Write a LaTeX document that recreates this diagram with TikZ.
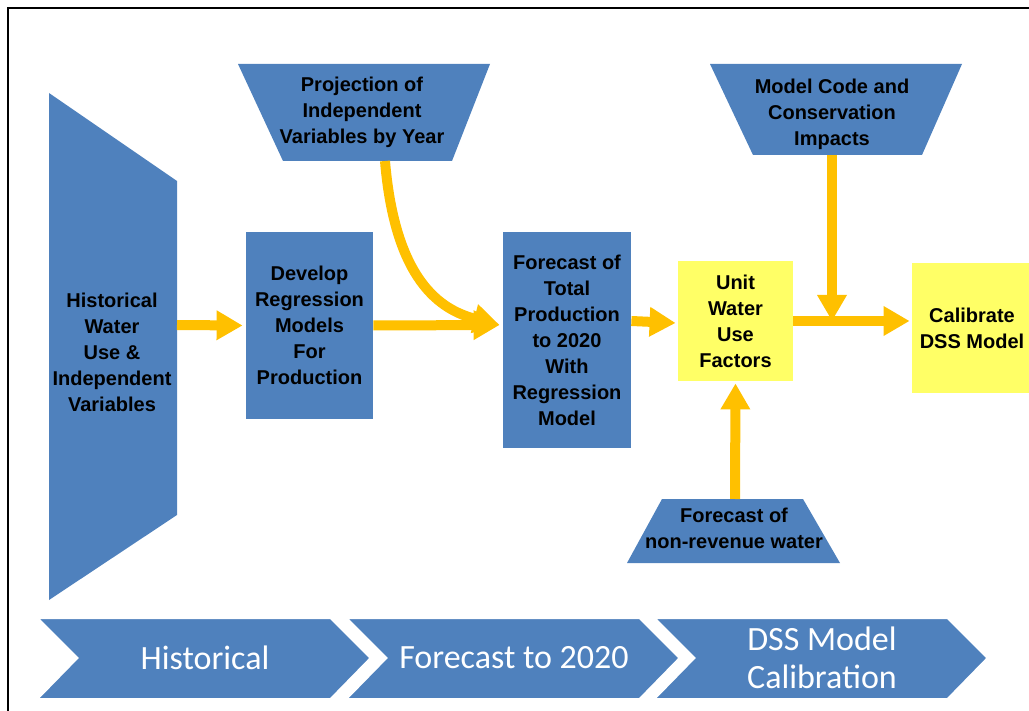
\documentclass[tikz,border=0pt]{standalone}
\usepackage{fontspec}
\setmainfont{Liberation Sans}
\newfontfamily\calibri{Carlito}
\usetikzlibrary{arrows.meta,positioning,calc}
\definecolor{FlowBlue}{HTML}{4F81BD}
\definecolor{FlowOrange}{HTML}{FFC000}
\definecolor{FlowYellow}{HTML}{FFFF66}

\begin{document}
\begin{tikzpicture}[x=0.5pt, y=-0.5pt,
  lbl/.style={font=\bfseries\fontsize{10}{13}\selectfont, align=center, text=black},
  bluebox/.style={lbl, fill=FlowBlue, inner sep=0pt},
  yellowbox/.style={lbl, fill=FlowYellow, inner sep=0pt},
  flow/.style={line width=5pt, FlowOrange, -{Triangle[width=14pt,length=13pt]}},
  phase/.style={fill=FlowBlue, draw=white, line width=2pt}]
\path[use as bounding box, clip] (0,0) rectangle (1029,711);

% Frame
\draw[line width=1pt] (8,711) -- (8,8) -- (1029,8);

% Input shapes
\fill[FlowBlue] (49,93) -- (177,181) -- (177,515) -- (49,600) -- cycle;
\node[lbl] (hist) at (112,352) {Historical\\Water\\Use \&\\Independent\\Variables};
\coordinate (hist-e) at (177,325);

\fill[FlowBlue] (238,64) -- (490,64) -- (452,161) -- (283,161) -- cycle;
\node[lbl] (proj) at (362,112) {Projection of\\Independent\\Variables by Year};
\coordinate (proj-s) at (385,161);

\fill[FlowBlue] (710,64) -- (962,64) -- (922,155) -- (753,155) -- cycle;
\node[lbl] (code) at (832,114) {Model Code and\\Conservation\\Impacts};
\coordinate (code-s) at (832,155);

\fill[FlowBlue] (662,499) -- (803,499) -- (840,563) -- (627,563) -- cycle;
\node[lbl] (nrw) at (734,528) {Forecast of\\non-revenue water};
\coordinate (nrw-n) at (735,499);

% Process boxes
\node[bluebox, minimum width=63.5pt, minimum height=93.5pt] (dev) at (309.5,325.5)
  {Develop\\Regression\\Models\\For\\Production};
\node[bluebox, minimum width=64pt, minimum height=108pt] (fcst) at (567,340)
  {Forecast of\\Total\\Production\\to 2020\\With\\Regression\\Model};
\node[yellowbox, minimum width=57.5pt, minimum height=60pt] (unit) at (735.5,321)
  {Unit\\Water\\Use\\Factors};
\node[yellowbox, minimum width=60pt, minimum height=65pt] (calib) at (972,328.5)
  {Calibrate\\DSS Model};

% Connectors
\draw[flow] (hist-e) -- ($(dev.west)+(-3,0)$);
\draw[flow] (dev.east) -- ($(fcst.west)+(-3,-15)$);
\draw[flow] (proj-s) .. controls (395,280) and (440,310) .. ($(fcst.west)+(-3,-15)$);
\draw[flow] (fcst.east |- unit.west) -- ($(unit.west)+(-2,2)$);
\draw[flow] (unit.east) -- ($(calib.west |- unit.east)+(-2,0)$);
\draw[flow] (code-s) -- (code-s |- unit.east);
\draw[flow] (nrw-n) -- ($(unit.south)+(0,2)$);

% Phase chevrons
\foreach \x/\name/\txt in {35/ph1/Historical, 344/ph2/Forecast to 2020, 652/ph3/{DSS Model\\Calibration}}
{
  \path[phase] (\x,617) -- ++(296,0) -- ++(41,41) -- ++(-41,42) -- ++(-296,0) -- ++(41,-42) -- cycle;
  \node[font=\calibri\fontsize{17}{19}\selectfont, text=white, align=center] (\name) at (\x+170,658) {\txt};
}
\end{tikzpicture}
\end{document}
